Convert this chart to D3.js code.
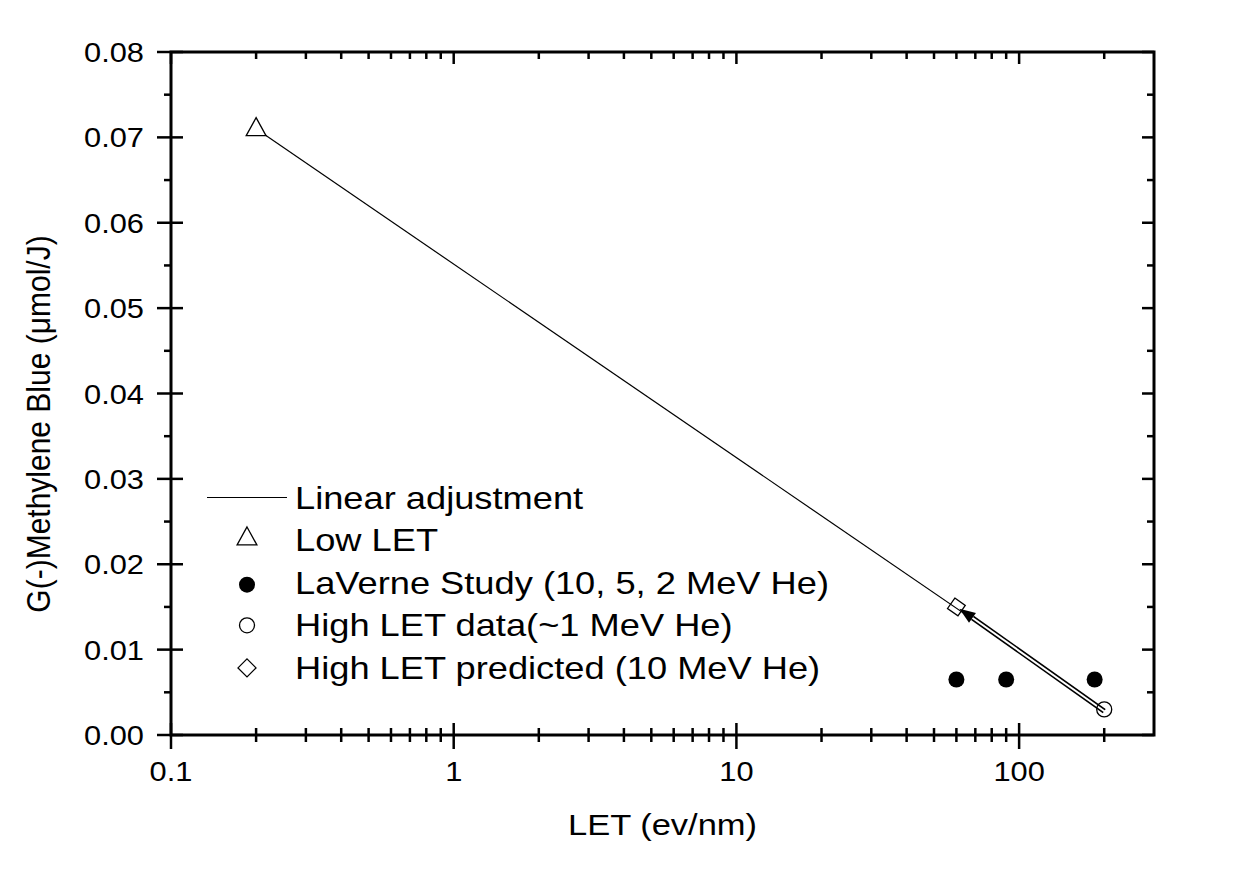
<!DOCTYPE html>
<html>
<head>
<meta charset="utf-8" />
<title>G(-)Methylene Blue vs LET</title>
<script src="https://d3js.org/d3.v7.min.js"></script>
<style>
  body { margin: 0; background: #fff; }
  text { font-family: Arial, "Liberation Sans", sans-serif; fill: #000; }
</style>
</head>
<body>
<svg id="chart"></svg>
<script>
// data
const fitX = [0.2, 200];
const fitY = [0.071, 0.003];
const lowLetX = [0.2];
const lowLetY = [0.071];
const laverneX = [60, 90, 185];
const laverneY = [0.0065, 0.0065, 0.0065];
const highDataX = [200];
const highDataY = [0.003];
const predX = [60];
const predY = [0.015];
const arrowFrom = [200, 0.0028];
const arrowTo = [61.5, 0.0148];

const xMajor = [0.1, 1, 10, 100];
const xMinor = [0.2, 0.3, 0.4, 0.5, 0.6, 0.7, 0.8, 0.9, 2, 3, 4, 5, 6, 7, 8, 9,
                20, 30, 40, 50, 60, 70, 80, 90, 200];
const xLabels = ["0.1", "1", "10", "100"];
const yMajor = [0, 0.01, 0.02, 0.03, 0.04, 0.05, 0.06, 0.07, 0.08];
const yMinor = [0.005, 0.015, 0.025, 0.035, 0.045, 0.055, 0.065, 0.075];
const yLabels = ["0.00", "0.01", "0.02", "0.03", "0.04", "0.05", "0.06", "0.07", "0.08"];

const legendNames = ["Linear adjustment", "Low LET", "LaVerne Study (10, 5, 2 MeV He)",
                     "High LET data(~1 MeV He)", "High LET predicted (10 MeV He)"];

const W = 1241, H = 884;
const L = 171, R = 1154, T = 52, B = 735;
const svg = d3.select("#chart").attr("width", W).attr("height", H);

const x = d3.scaleLog().domain([0.1, 300]).range([L, R]);
const y = d3.scaleLinear().domain([0, 0.08]).range([B, T]);

// frame
svg.append("rect").attr("x", L).attr("y", T).attr("width", R - L).attr("height", B - T)
  .attr("fill", "none").attr("stroke", "#000").attr("stroke-width", 3);

function ticks(vals, x1, x2, y1, y2) {
  svg.append("g").selectAll("line").data(vals).enter().append("line")
    .attr("x1", x1).attr("x2", x2).attr("y1", y1).attr("y2", y2)
    .attr("stroke", "#000").attr("stroke-width", 2.5);
}
// bottom
ticks(xMajor, d => x(d), d => x(d), B - 12, B + 14);
ticks(xMinor, d => x(d), d => x(d), B - 7, B + 7);
// top
ticks(xMajor, d => x(d), d => x(d), T, T + 12);
ticks(xMinor, d => x(d), d => x(d), T, T + 7);
// left
ticks(yMajor, L - 14, L + 12, d => y(d), d => y(d));
ticks(yMinor, L - 7, L, d => y(d), d => y(d));
// right
ticks(yMajor, R - 12, R, d => y(d), d => y(d));
ticks(yMinor, R - 7, R, d => y(d), d => y(d));

const sx = 1.1;
// tick labels
svg.append("g").selectAll("text").data(xMajor).enter().append("text")
  .attr("transform", d => `translate(${x(d)},${B + 46}) scale(${sx},1)`)
  .attr("text-anchor", "middle").attr("font-size", 28)
  .text((d, i) => xLabels[i]);
svg.append("g").selectAll("text").data(yMajor).enter().append("text")
  .attr("transform", d => `translate(${L - 27},${y(d) + 10}) scale(${sx},1)`)
  .attr("text-anchor", "end").attr("font-size", 28)
  .text((d, i) => yLabels[i]);

// axis titles
svg.append("text")
  .attr("transform", `translate(${(L + R) / 2},835) scale(1.15,1)`)
  .attr("text-anchor", "middle").attr("font-size", 30)
  .text("LET (ev/nm)");
svg.append("text")
  .attr("transform", "translate(50,424) scale(1.12,1) rotate(-90)")
  .attr("text-anchor", "middle").attr("font-size", 30)
  .text("G(-)Methylene Blue (\u03bcmol/J)");

// fit line
const line = d3.line().x(d => x(d[0])).y(d => y(d[1]));
svg.append("path").datum(d3.zip(fitX, fitY)).attr("d", line)
  .attr("fill", "none").attr("stroke", "#000").attr("stroke-width", 1.2);

// arrow (hollow shaft, filled head)
const ax1 = x(arrowFrom[0]), ay1 = y(arrowFrom[1]);
const ax2 = x(arrowTo[0]), ay2 = y(arrowTo[1]);
const ang = Math.atan2(ay2 - ay1, ax2 - ax1);
const headLen = 16, headW = 6;
const bx = ax2 - headLen * Math.cos(ang), by = ay2 - headLen * Math.sin(ang);
svg.append("line").attr("x1", ax1).attr("y1", ay1).attr("x2", bx).attr("y2", by)
  .attr("stroke", "#000").attr("stroke-width", 5);
svg.append("line").attr("x1", ax1 - 1.5 * Math.cos(ang)).attr("y1", ay1 - 1.5 * Math.sin(ang))
  .attr("x2", bx + 2 * Math.cos(ang)).attr("y2", by + 2 * Math.sin(ang))
  .attr("stroke", "#fff").attr("stroke-width", 2);
svg.append("path")
  .attr("d", `M${ax2},${ay2} L${bx - headW * Math.sin(ang)},${by + headW * Math.cos(ang)} L${bx + headW * Math.sin(ang)},${by - headW * Math.cos(ang)} Z`)
  .attr("fill", "#000");

// markers
const triPath = s => `M0,${-s * 0.62} L${s * 0.55},${s * 0.38} L${-s * 0.55},${s * 0.38} Z`;
const diaPath = s => `M0,${-s / 2} L${s / 2},0 L0,${s / 2} L${-s / 2},0 Z`;

svg.append("g").selectAll("path").data(d3.zip(lowLetX, lowLetY)).enter().append("path")
  .attr("transform", d => `translate(${x(d[0])},${y(d[1])})`)
  .attr("d", triPath(18)).attr("fill", "#fff").attr("stroke", "#000").attr("stroke-width", 1.3);
svg.append("g").selectAll("circle").data(d3.zip(laverneX, laverneY)).enter().append("circle")
  .attr("cx", d => x(d[0])).attr("cy", d => y(d[1])).attr("r", 8).attr("fill", "#000");
svg.append("g").selectAll("circle").data(d3.zip(highDataX, highDataY)).enter().append("circle")
  .attr("cx", d => x(d[0])).attr("cy", d => y(d[1])).attr("r", 7.5)
  .attr("fill", "none").attr("stroke", "#000").attr("stroke-width", 1.3);
svg.append("g").selectAll("path").data(d3.zip(predX, predY)).enter().append("path")
  .attr("transform", d => `translate(${x(d[0])},${y(d[1])}) rotate(-10)`)
  .attr("d", diaPath(18)).attr("fill", "none").attr("stroke", "#000").attr("stroke-width", 1.3);

// legend
const legX = 247, legY0 = 497.5, legDy = 42.6;
const leg = svg.append("g");
leg.append("line").attr("x1", 207).attr("x2", 287).attr("y1", legY0).attr("y2", legY0)
  .attr("stroke", "#000").attr("stroke-width", 1.2);
leg.append("path").attr("transform", `translate(${legX},${legY0 + legDy - 2})`)
  .attr("d", triPath(18)).attr("fill", "none").attr("stroke", "#000").attr("stroke-width", 1.3);
leg.append("circle").attr("cx", legX).attr("cy", legY0 + 2 * legDy + 2).attr("r", 8).attr("fill", "#000");
leg.append("circle").attr("cx", legX).attr("cy", legY0 + 3 * legDy).attr("r", 7.5)
  .attr("fill", "none").attr("stroke", "#000").attr("stroke-width", 1.3);
leg.append("path").attr("transform", `translate(${legX},${legY0 + 4 * legDy})`)
  .attr("d", diaPath(18)).attr("fill", "none").attr("stroke", "#000").attr("stroke-width", 1.3);
leg.selectAll("text").data(legendNames).enter().append("text")
  .attr("transform", (d, i) => `translate(295,${legY0 + i * legDy + 11}) scale(1.17,1)`)
  .attr("font-size", 31)
  .text(d => d);
</script>
</body>
</html>
